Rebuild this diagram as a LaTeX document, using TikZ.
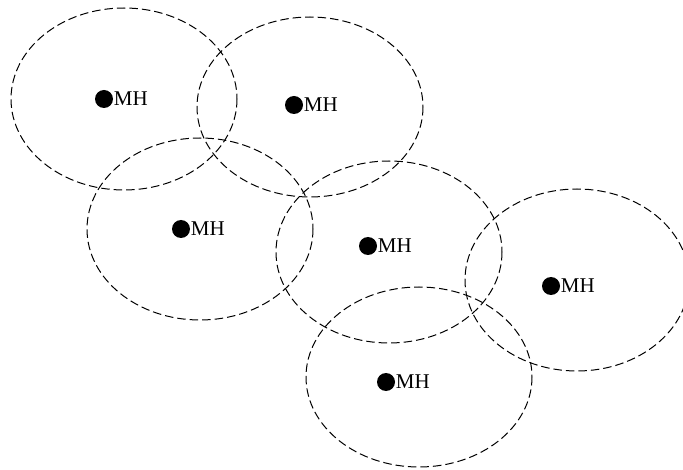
\documentclass[tikz,border=0pt]{standalone}
\usepackage{fontspec}
\setmainfont{Liberation Serif}
\begin{document}
\begin{tikzpicture}[x=1pt,y=-1pt,
  cell/.style={draw=black,line width=1pt,dash pattern=on 8.5pt off 4pt},
  mh/.style={anchor=west,inner sep=0pt,font=\fontsize{21}{22}\selectfont},
  dot/.style={circle,fill=black,inner sep=0pt,minimum size=18pt}]
\useasboundingbox (0,0) rectangle (683,470);
\begin{scope}
\clip (0,0) rectangle (683,470);
\draw[cell] (124,99) ellipse (113 and 91);
\draw[cell] (310,107) ellipse (113 and 90);
\draw[cell] (200,229) ellipse (113 and 91);
\draw[cell] (389,252) ellipse (113 and 91);
\draw[cell] (577,280) ellipse (112 and 91);
\draw[cell] (419,377) ellipse (113 and 90);
\end{scope}
\foreach \n/\x/\y in {a/104/99, b/294/105, c/181/229, d/368/246, e/551/286, f/386/382}{
  \node[dot] (\n) at (\x,\y) {};
  \node[mh] (\n t) at ([xshift=0.5pt]\n.east) {MH};
}
\end{tikzpicture}
\end{document}
